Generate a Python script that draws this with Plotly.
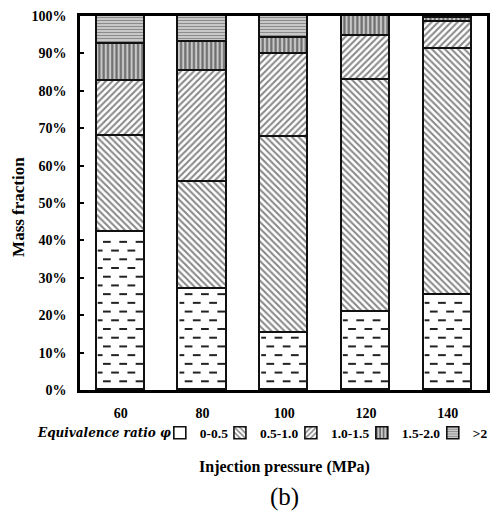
import numpy as np
import plotly.graph_objects as go

# Injection pressure categories (MPa)
pressures = ["60", "80", "100", "120", "140"]

# Mass fraction (%) of each equivalence-ratio band, bottom to top of each stack
phi_bands = ["0-0.5", "0.5-1.0", "1.0-1.5", "1.5-2.0", ">2"]
frac_0_05 = [42.3, 27.1, 15.3, 20.8, 25.3]
frac_05_10 = [25.5, 28.4, 52.4, 62.0, 66.0]
frac_10_15 = [14.8, 29.8, 22.2, 11.8, 7.0]
frac_15_20 = [10.0, 7.8, 4.3, 5.4, 1.1]
frac_gt2 = [7.4, 6.9, 5.8, 0.0, 0.6]

y_tick_values = [0, 10, 20, 30, 40, 50, 60, 70, 80, 90, 100]
y_tick_labels = ["0%", "10%", "20%", "30%", "40%", "50%", "60%", "70%", "80%", "90%", "100%"]

series = [frac_0_05, frac_05_10, frac_10_15, frac_15_20, frac_gt2]

SERIF = "Liberation Serif"
BAR_W = 0.59
xpos = np.arange(len(pressures))

# hatch styles per band (the lowest band gets a dash overlay instead)
patterns = [
    dict(shape="", bgcolor="white"),
    dict(shape="\\", fgcolor="#111", bgcolor="white", size=4.6, solidity=0.45),
    dict(shape="/", fgcolor="#111", bgcolor="white", size=4.6, solidity=0.45),
    dict(shape="|", fgcolor="#111", bgcolor="#c8c8c8", size=4.3, solidity=0.5),
    dict(shape="-", fgcolor="#444", bgcolor="#d4d4d4", size=3.0, solidity=0.45),
]

fig = go.Figure()

legend_names = ["legend", "legend2", "legend3", "legend4", "legend5"]
for band, vals, pat, lg in zip(phi_bands, series, patterns, legend_names):
    fig.add_trace(go.Bar(
        x=xpos, y=vals, width=BAR_W, name=band,
        marker=dict(color="white", line=dict(color="#111", width=1.6), pattern=pat),
        legend=lg, hoverinfo="skip",
    ))

# staggered short dashes filling the 0-0.5 segment of every bar
row_step = 2.33
period = 0.2
dash_len = 0.095
dx, dy = [], []
for i, top in zip(xpos, frac_0_05):
    left, right = i - BAR_W / 2, i + BAR_W / 2
    k = 0
    y = row_step
    while y < top - 1.2:
        phase = 0.076 - (k % 2) * 0.1
        start = left + phase - period
        while start < right:
            a, b = max(start, left + 0.012), min(start + dash_len, right - 0.012)
            if b - a > 0.02:
                dx += [a, b, None]
                dy += [y, y, None]
            start += period
        k += 1
        y = row_step * (k + 1)
fig.add_trace(go.Scatter(x=dx, y=dy, mode="lines", line=dict(color="#222", width=2),
                         showlegend=False, hoverinfo="skip"))

# one small legend per band laid out in a row
L, R, T, B = 80, 2, 16, 123
W, H = 495, 513
pw, ph = W - L - R, H - T - B
text_px = [201, 262, 334, 406, 478]
leg_y = (H - B - 433) / ph
legends = {}
for lg, tx in zip(legend_names, text_px):
    legends[lg] = dict(
        x=(tx - 40 - L) / pw, xanchor="left", y=leg_y, yanchor="middle",
        orientation="h", bgcolor="rgba(0,0,0,0)", borderwidth=0,
        font=dict(family=SERIF, size=13.5, color="black", weight="bold"),
        itemwidth=30,
    )

fig.update_layout(
    width=W, height=H, margin=dict(l=L, r=R, t=T, b=B, pad=0),
    plot_bgcolor="white", paper_bgcolor="white",
    barmode="stack", bargap=0, showlegend=True,
    **legends,
    xaxis=dict(
        range=[-0.5, 4.48], tickvals=list(xpos), ticktext=pressures,
        showline=True, linecolor="black", linewidth=2.5, mirror=True,
        ticks="", showgrid=False, zeroline=False,
        tickfont=dict(family=SERIF, size=14, color="black", weight="bold"),
        ticklabelstandoff=8,
    ),
    yaxis=dict(
        range=[0, 100], tickvals=y_tick_values, ticktext=y_tick_labels,
        showline=True, linecolor="black", linewidth=2.5, mirror=True,
        ticks="inside", ticklen=4, tickwidth=2, tickcolor="black",
        showgrid=False, zeroline=False,
        tickfont=dict(family=SERIF, size=14, color="black", weight="bold"),
        ticklabelstandoff=8,
    ),
    annotations=[
        dict(text="Mass fraction", textangle=-90, xref="paper", yref="paper",
             x=(17 - L) / pw, xanchor="center", y=(H - B - 207) / ph, yanchor="middle",
             showarrow=False,
             font=dict(family=SERIF, size=17, color="black", weight="bold")),
        dict(text="Equivalence ratio φ", xref="paper", yref="paper",
             x=(34 - L) / pw, xanchor="left", y=leg_y, yanchor="middle", showarrow=False,
             font=dict(family="DejaVu Serif", size=12, color="black",
                       weight="bold", style="italic")),
        dict(text="Injection pressure (MPa)", xref="paper", yref="paper",
             x=(288 - L) / pw, xanchor="center", y=(H - B - 467) / ph, yanchor="middle",
             showarrow=False,
             font=dict(family=SERIF, size=16, color="black", weight="bold")),
        dict(text="(b)", xref="paper", yref="paper",
             x=(288 - L) / pw, xanchor="center", y=(H - B - 497) / ph, yanchor="middle",
             showarrow=False,
             font=dict(family=SERIF, size=25, color="black")),
    ],
)

fig.write_html("out.html")
